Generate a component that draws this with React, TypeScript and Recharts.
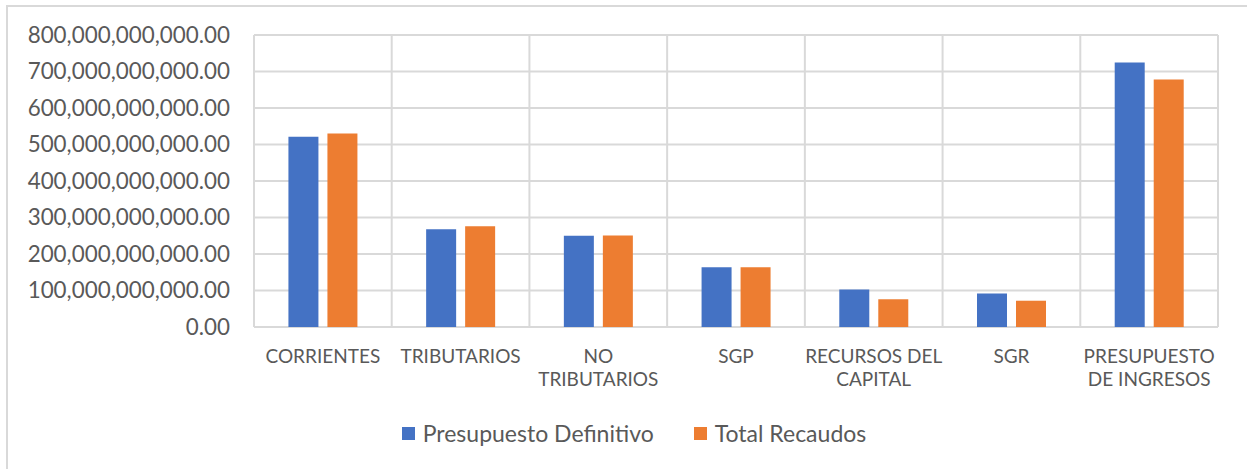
import React from 'react';
import { BarChart, Bar, XAxis, YAxis, CartesianGrid, Legend } from 'recharts';

const categories = [
  'CORRIENTES',
  'TRIBUTARIOS',
  'NO TRIBUTARIOS',
  'SGP',
  'RECURSOS DEL CAPITAL',
  'SGR',
  'PRESUPUESTO DE INGRESOS',
];

// values in pesos
const presupuestoDefinitivo = [521e9, 268e9, 250e9, 164e9, 103e9, 92e9, 725e9];
const totalRecaudos = [530e9, 276e9, 251e9, 164e9, 76e9, 72e9, 678e9];

const yTicks = [0, 100e9, 200e9, 300e9, 400e9, 500e9, 600e9, 700e9, 800e9];

const data = categories.map((name, i) => ({
  name,
  definitivo: presupuestoDefinitivo[i],
  recaudos: totalRecaudos[i],
}));

const FONT = 'Lato, "Open Sans", sans-serif';
const TEXT = '#595959';
const GRID = '#d9d9d9';

const fmt = (v: number) =>
  v.toLocaleString('en-US', { minimumFractionDigits: 2, maximumFractionDigits: 2 });

// greedy word wrap, roughly what Excel does in a narrow category slot
const wrap = (label: string, maxChars = 12) => {
  const lines: string[] = [];
  let cur = '';
  label.split(' ').forEach((w) => {
    if (!cur) cur = w;
    else if ((cur + ' ' + w).length <= maxChars) cur += ' ' + w;
    else {
      lines.push(cur);
      cur = w;
    }
  });
  if (cur) lines.push(cur);
  return lines;
};

const CategoryTick = (props: any) => {
  const { x, y, payload } = props;
  const lines = wrap(String(payload.value));
  return (
    <text x={x} y={y} textAnchor="middle" fill={TEXT} fontSize={19} fontFamily={FONT}>
      {lines.map((l, i) => (
        <tspan key={i} x={x} y={y + 36 + i * 23}>
          {l}
        </tspan>
      ))}
    </text>
  );
};

const LegendContent = () => {
  const items = [
    { label: 'Presupuesto Definitivo', color: '#4472C4' },
    { label: 'Total Recaudos', color: '#ED7D31' },
  ];
  return (
    <div
      style={{
        display: 'flex',
        justifyContent: 'center',
        gap: 40,
        fontFamily: FONT,
        paddingTop: 20,
        paddingLeft: 26,
      }}
    >
      {items.map((it) => (
        <div key={it.label} style={{ display: 'flex', alignItems: 'center', color: TEXT, fontSize: 23 }}>
          <span style={{ width: 13, height: 13, background: it.color, marginRight: 8 }} />
          {it.label}
        </div>
      ))}
    </div>
  );
};

export default function App() {
  return (
    <div style={{ position: 'absolute', left: 0, top: 0, width: 1247, height: 469, background: '#fff', overflow: 'hidden' }}>
      <div
        style={{
          position: 'absolute',
          left: 6,
          top: 5,
          width: 1300,
          height: 500,
          borderLeft: `2px solid ${GRID}`,
          borderTop: `2px solid ${GRID}`,
        }}
      />
      <BarChart
        width={1247}
        height={469}
        data={data}
        margin={{ top: 35, right: 29, left: 24, bottom: 20 }}
        barCategoryGap="25%"
        barGap={9}
        style={{ position: 'absolute', left: 0, top: 0 }}
      >
        <CartesianGrid
          stroke={GRID}
          strokeWidth={2}
          verticalCoordinatesGenerator={({ offset }: any) =>
            categories.map((_, i) => offset.left + (offset.width * i) / categories.length).concat(offset.left + offset.width)
          }
        />
        <XAxis
          dataKey="name"
          axisLine={false}
          tickLine={false}
          tickSize={0}
          tickMargin={0}
          interval={0}
          height={72}
          tick={<CategoryTick />}
        />
        <YAxis
          width={230}
          domain={[0, 800e9]}
          ticks={yTicks}
          tickFormatter={fmt}
          axisLine={false}
          tickLine={false}
          tickSize={0}
          tickMargin={24}
          tick={{ fill: TEXT, fontSize: 22.4, fontFamily: FONT }}
        />
        <Legend verticalAlign="bottom" height={50} content={<LegendContent />} />
        <Bar dataKey="definitivo" name="Presupuesto Definitivo" fill="#4472C4" isAnimationActive={false} />
        <Bar dataKey="recaudos" name="Total Recaudos" fill="#ED7D31" isAnimationActive={false} />
      </BarChart>
    </div>
  );
}
